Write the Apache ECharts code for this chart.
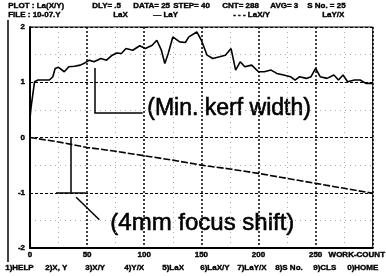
<!DOCTYPE html>
<html>
<head>
<meta charset="utf-8">
<script src="https://cdn.jsdelivr.net/npm/echarts@6/dist/echarts.min.js"></script>
<style>
html, body { margin: 0; padding: 0; background: #fff; }
#main { width: 386px; height: 276px; }
</style>
</head>
<body>
<div id="main"></div>
<script>
// x = work count, y = reading
var kerfX = [0, 1, 4, 7, 17, 20, 22, 25, 30, 34, 39, 44, 48, 52, 56, 62, 67, 72, 76, 80, 84, 90, 96, 101, 107, 111, 115, 118, 121, 125, 131, 136, 139, 146, 150, 155, 160, 166, 171, 176, 180, 184, 188, 194, 200, 205, 211, 216, 222, 228, 232, 236, 242, 246, 250, 254, 260, 266, 270, 274, 278, 284, 289, 294, 300];
var kerfY = [0.35, 0.56, 1.01, 1.04, 1.04, 1.10, 1.25, 1.27, 1.19, 1.28, 1.29, 1.31, 1.35, 1.40, 1.37, 1.43, 1.40, 1.49, 1.53, 1.52, 1.61, 1.58, 1.66, 1.61, 1.67, 1.76, 1.58, 1.34, 1.52, 1.82, 1.73, 1.72, 1.82, 1.91, 1.76, 1.49, 1.43, 1.46, 1.49, 1.61, 1.22, 1.37, 1.28, 1.31, 1.19, 1.19, 1.22, 1.16, 1.13, 1.10, 1.04, 1.10, 1.07, 1.10, 1.25, 1.10, 1.07, 1.13, 1.04, 1.13, 1.01, 1.04, 1.04, 0.98, 0.98];
var focusX = [0, 25, 50, 75, 100, 125, 150, 175, 200, 225, 250, 275, 300];
var focusY = [0, -0.08, -0.18, -0.25, -0.33, -0.41, -0.50, -0.57, -0.65, -0.74, -0.83, -0.92, -1.01];

// annotation leader lines, in data units
var kerfLeader = [[[56.5, 1.26], [56.5, 0.44]], [[56.5, 0.44], [98.6, 0.44]]];
var focusLeader = [[[35.4, 0], [35.4, -1.0]], [[22.8, -1.0], [48.9, -1.0]], [[40.4, -1.08], [60.7, -1.49]]];

var headerRow1 = [["PLOT : La(X/Y)", 8], ["DLY= .5", 92], ["DATA= 25", 133], ["STEP= 40", 173], ["CNT= 288", 222], ["AVG= 3", 270], ["S No. = 25", 307]];
var headerRow2 = [["FILE : 10-07.Y", 8], ["LaX", 113], ["\u2014 LaY", 153], ["- - - LaX/Y", 233], ["LaY/X", 322]];
var footerRow = [["1)HELP", 5], ["2)X, Y", 45], ["3)X/Y", 85], ["4)Y/X", 124], ["5)LaX", 162], ["6)LaX/Y", 200], ["7)LaY/X", 237], ["8)S No.", 275], ["9)CLS", 313], ["0)HOME", 347]];

function zip(a, b) {
    var out = [];
    for (var i = 0; i < a.length; i++) out.push([a[i], b[i]]);
    return out;
}

function segs(list) {
    return list.map(function (s) {
        return [{ coord: s[0] }, { coord: s[1] }];
    });
}

var graphics = [];
function addRow(row, y) {
    row.forEach(function (t) {
        graphics.push({
            type: 'text', left: t[1], top: y,
            style: { text: t[0], fontSize: 8, fontWeight: 'bold', fontFamily: 'Liberation Sans', fill: '#000', stroke: '#000', lineWidth: 0.4 }
        });
    });
}
addRow(headerRow1, 2);
addRow(headerRow2, 11);
addRow(footerRow, 264);
graphics.push({ type: 'line', shape: { x1: 8, y1: 20, x2: 8, y2: 262 }, style: { stroke: '#000', lineWidth: 1.5 } });
graphics.push({ type: 'text', left: 147, top: 97, style: { text: '(Min. kerf width)', fontSize: 23, fontFamily: 'Liberation Sans', fill: '#000', stroke: '#000', lineWidth: 0.6 } });
graphics.push({ type: 'text', left: 110, top: 211, style: { text: '(4mm focus shift)', fontSize: 24, fontFamily: 'Liberation Sans', fill: '#000', stroke: '#000', lineWidth: 0.6 } });

var labelStyle = { color: '#000', fontSize: 8, fontWeight: 'bold', fontFamily: 'Liberation Sans', textBorderColor: '#000', textBorderWidth: 0.4 };

var myChart = echarts.init(document.getElementById('main'));
option = {
    animation: false,
    grid: { left: 30, right: 0, top: 27, bottom: 28, show: true, borderColor: '#000', borderWidth: 1 },
    xAxis: {
        type: 'value', min: 0, max: 300, interval: 50,
        name: 'WORK-COUNT', nameLocation: 'end', nameGap: -2,
        nameTextStyle: Object.assign({ align: 'right', verticalAlign: 'top', padding: [3, 0, 0, 0] }, labelStyle),
        axisLine: { onZero: false, lineStyle: { color: '#000', width: 2 } },
        axisTick: { show: false },
        axisLabel: Object.assign({
            margin: 3,
            formatter: function (v) { return v == 300 ? '' : v; }
        }, labelStyle),
        splitLine: { show: true, lineStyle: { color: '#000', type: [2, 2], width: 1.5 } },
        minorTick: { show: false, splitNumber: 2 },
        minorSplitLine: { show: true, lineStyle: { color: '#aaa', type: [1, 4], width: 1 } }
    },
    yAxis: {
        type: 'value', min: -2, max: 2, interval: 1,
        axisLine: { onZero: false, lineStyle: { color: '#000', width: 2 } },
        axisTick: { show: false },
        axisLabel: Object.assign({ margin: 5 }, labelStyle),
        splitLine: { show: true, lineStyle: { color: '#000', type: [3, 2], width: 1.2 } },
        minorTick: { show: false, splitNumber: 2 },
        minorSplitLine: { show: true, lineStyle: { color: '#aaa', type: [1, 4], width: 1 } }
    },
    series: [
        {
            name: 'kerf', type: 'line', data: zip(kerfX, kerfY),
            showSymbol: false, lineStyle: { color: '#000', width: 1.6 },
            markLine: {
                silent: true, symbol: ['none', 'none'], label: { show: false },
                lineStyle: { color: '#000', width: 1.5, type: 'solid' },
                data: segs(kerfLeader)
            }
        },
        {
            name: 'focus', type: 'line', data: zip(focusX, focusY),
            showSymbol: false, lineStyle: { color: '#000', width: 1.6, type: [7, 2] },
            markLine: {
                silent: true, symbol: ['none', 'none'], label: { show: false },
                lineStyle: { color: '#000', width: 1.5, type: 'solid' },
                data: segs(focusLeader)
            }
        }
    ],
    graphic: graphics
};
myChart.setOption(option);
</script>
</body>
</html>
